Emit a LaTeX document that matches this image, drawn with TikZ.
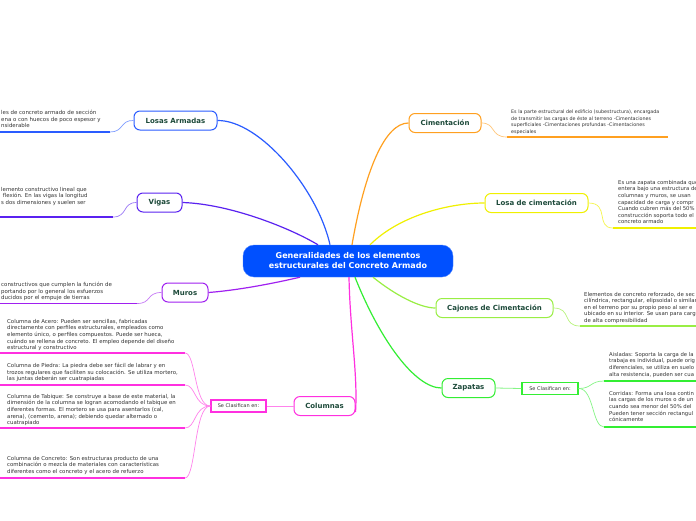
\documentclass[tikz,border=0pt]{standalone}
\usepackage{fontspec}
\setmainfont{DejaVu Sans}
\begin{document}
\begin{tikzpicture}[x=1pt,y=-1pt,
  topic/.style={draw, line width=1pt, fill=white, rounded corners=6pt, minimum height=19pt, inner xsep=6pt, font=\fontsize{7}{8}\selectfont\bfseries, text=labelc},
  clasif/.style={draw, line width=1.4pt, fill=white, minimum height=12pt, inner xsep=3pt, font=\fontsize{5}{6}\selectfont, text=txt},
  desc/.style={anchor=north west, inner sep=0pt, align=left, text=txt, font=\fontsize{5.4}{6.6}\selectfont},
  conn/.style={line width=1.2pt},
  twig/.style={line width=0.7pt},
  uline/.style={line width=1.8pt}
]
\definecolor{labelc}{HTML}{1D4A3A}
\definecolor{txt}{HTML}{333333}
\definecolor{cblue}{HTML}{0050FF}
\definecolor{blu}{HTML}{2A5CFF}
\definecolor{ind}{HTML}{5A22F0}
\definecolor{pur}{HTML}{A020F0}
\definecolor{mag}{HTML}{FF30E0}
\definecolor{ora}{HTML}{FFA020}
\definecolor{yel}{HTML}{F0F000}
\definecolor{lgr}{HTML}{99EE44}
\definecolor{grn}{HTML}{33EE33}
\useasboundingbox (0,0) rectangle (696,520);
\clip (0,0) rectangle (696,520);
\fill[white] (0,0) rectangle (696,520);

% ---------- nodes ----------
\node[draw=cblue!70!white, fill=cblue, rounded corners=11pt, minimum width=210pt, minimum height=32pt, text=white, align=center, font=\fontsize{8}{10}\selectfont\bfseries] (c) at (348,261) {Generalidades de los elementos\\estructurales del Concreto Armado};

\node[topic, draw=blu, minimum width=83pt] (losas) at (175.5,120.5) {Losas Armadas};
\node[topic, draw=ind, minimum width=45pt] (vigas) at (159.5,202.5) {Vigas};
\node[topic, draw=pur, minimum width=46pt] (muros) at (185,292.5) {Muros};
\node[topic, draw=mag, minimum width=61pt] (col) at (324.5,406) {Columnas};
\node[clasif, draw=mag, minimum width=55pt] (cl1) at (238.5,406) {Se Clasifican en:};

\node[topic, draw=ora, minimum width=72pt] (cim) at (445,123) {Cimentación};
\node[topic, draw=yel, minimum width=103pt] (losac) at (536.5,203) {Losa de cimentación};
\node[topic, draw=lgr, minimum width=117pt] (caj) at (494.5,308) {Cajones de Cimentación};
\node[topic, draw=grn, minimum width=53pt] (zap) at (468.5,388) {Zapatas};
\node[clasif, draw=grn, minimum width=56pt] (cl2) at (550,388.5) {Se Clasifican en:};

% ---------- main connectors ----------
\draw[conn, blu] ([xshift=-18pt]c.north) .. controls (318,190) and (260,120) .. (losas.east);
\draw[conn, ind] ([xshift=-30pt]c.north) .. controls (290,228) and (230,204) .. (vigas.east);
\draw[conn, pur] ([xshift=-48pt]c.south) .. controls (275,283) and (240,290) .. (muros.east);
\draw[conn, mag] ([xshift=1pt]c.south) .. controls (350,330) and (358,375) .. ([yshift=-6pt]col.east);
\draw[conn, ora] ([xshift=4pt]c.north) .. controls (365,170) and (385,123) .. (cim.west);
\draw[conn, yel] ([xshift=22pt]c.north) .. controls (400,215) and (450,203) .. (losac.west);
\draw[conn, lgr] ([xshift=25pt]c.south) .. controls (395,295) and (420,308) .. (caj.west);
\draw[conn, grn] ([xshift=7pt]c.south) .. controls (380,340) and (415,388) .. (zap.west);
\draw[conn, mag!60!white, line width=0.8pt] (col.west) -- (cl1.east);
\draw[conn, grn!60!white, line width=0.8pt] (zap.east) -- (cl2.west);

% ---------- Losas Armadas text ----------
\node[desc, font=\fontsize{5.45}{6.6}\selectfont] (tl) at (1,110) {les de concreto armado de sección\\ena o con huecos de poco espesor y\\nsiderable};
\coordinate (ul0) at (0,132); \coordinate (ul1) at (110,132);
\draw[uline, blu] (ul0) -- (ul1);
\draw[twig, blu!60!white] (ul1) .. controls (124,132) and (120,120) .. (losas.west);

% ---------- Vigas text ----------
\node[desc] (tv) at (1,187) {lemento constructivo lineal que\\\ flexión. En las vigas la longitud\\s dos dimensiones y suelen ser};
\coordinate (uv0) at (0,217); \coordinate (uv1) at (113,217);
\draw[uline, ind] (uv0) -- (uv1);
\draw[twig, ind!60!white] (uv1) .. controls (128,217) and (122,202.5) .. (vigas.west);

% ---------- Muros text ----------
\node[desc, font=\fontsize{5.45}{6.6}\selectfont] (tm) at (1,282) {constructivos que cumplen la función de\\portando por lo general los esfuerzos\\ducidos por el empuje de tierras};
\coordinate (um0) at (0,303.5); \coordinate (um1) at (137,303.5);
\draw[uline, pur] (um0) -- (um1);
\draw[twig, pur!60!white] (um1) .. controls (152,303.5) and (146,292.5) .. (muros.west);

% ---------- Columnas texts ----------
\node[desc] (ca) at (7,319) {Columna de Acero: Pueden ser sencillas, fabricadas\\directamente con perfiles estructurales, empleados como\\elemento único, o perfiles compuestos. Puede ser hueca,\\cuándo se rellena de concreto. El empleo depende del diseño\\estructural y constructivo};
\node[desc] (cp) at (7,363) {Columna de Piedra: La piedra debe ser fácil de labrar y en\\trozos regulares que faciliten su colocación. Se utiliza mortero,\\las juntas deberán ser cuatrapiadas};
\node[desc] (ct) at (7,394) {Columna de Tabique: Se construye a base de este material, la\\dimensión de la columna se logran acomodando el tabique en\\diferentes formas. El mortero se usa para asentarlos (cal,\\arena), (cemento, arena); debiendo quedar alternado o\\cuatrapiado};
\node[desc] (cc) at (7,456) {Columna de Concreto: Son estructuras producto de una\\combinación o mezcla de materiales con características\\diferentes como el concreto y el acero de refuerzo};
\foreach \nm/\yy in {a/353, p/385, t/428, c/478} {
  \coordinate (u\nm0) at (0,\yy); \coordinate (u\nm1) at (185,\yy);
  \draw[uline, mag] (u\nm0) -- (u\nm1);
  \draw[twig, mag!60!white] (u\nm1) .. controls (196,\yy) and (194,406) .. (cl1.west);
}

% ---------- Cimentación text ----------
\node[desc, font=\fontsize{4.8}{6.4}\selectfont] (tc) at (511,110) {Es la parte estructural del edificio (subestructura), encargada\\de transmitir las cargas de éste al terreno -Cimentaciones\\superficiales -Cimentaciones profundas -Cimentaciones\\especiales};
\coordinate (uc0) at (507,137); \coordinate (uc1) at (668,137);
\draw[uline, ora] (uc0) -- (uc1);
\draw[twig, ora!60!white] (cim.east) .. controls (496,123) and (490,137) .. (uc0);

% ---------- Losa de cimentación text ----------
\node[desc, font=\fontsize{5.3}{6.6}\selectfont] (tlc) at (618,180) {Es una zapata combinada que\\entera bajo una estructura de\\columnas y muros, se usan\\capacidad de carga y compr\\Cuando cubren más del 50\%\\construcción soporta todo el\\concreto armado};
\coordinate (ulc0) at (613,228); \coordinate (ulc1) at (696,228);
\draw[uline, yel] (ulc0) -- (ulc1);
\draw[twig, yel!70!white] (losac.east) .. controls (610,203) and (595,228) .. (ulc0);

% ---------- Cajones text ----------
\node[desc, font=\fontsize{5.4}{6.5}\selectfont] (tcj) at (584,292) {Elementos de concreto reforzado, de sec\\cilíndrica, rectangular, elipsoidal o similar\\en el terreno por su propio peso al ser e\\ubicado en su interior. Se usan para carg\\de alta compresibilidad};
\coordinate (ucj0) at (580,326); \coordinate (ucj1) at (696,326);
\draw[uline, lgr] (ucj0) -- (ucj1);
\draw[twig, lgr!70!white] (caj.east) .. controls (572,308) and (562,326) .. (ucj0);

% ---------- Zapatas texts ----------
\node[desc, font=\fontsize{5.3}{6.6}\selectfont] (za) at (609,352) {Aisladas: Soporta la carga de la\\trabaja es individual, puede orig\\diferenciales, se utiliza en suelo\\alta resistencia, pueden ser cua};
\node[desc, font=\fontsize{5.3}{6.6}\selectfont] (zc) at (609,391) {Corridas: Forma una losa contin\\las cargas de los muros o de un\\cuando sea menor del 50\% del\\Pueden tener sección rectangul\\cónicamente};
\coordinate (uza0) at (604,381); \coordinate (uza1) at (696,381);
\coordinate (uzc0) at (604,427); \coordinate (uzc1) at (696,427);
\draw[uline, grn] (uza0) -- (uza1);
\draw[uline, grn] (uzc0) -- (uzc1);
\draw[twig, grn!60!white] (cl2.east) .. controls (592,388.5) and (590,381) .. (uza0);
\draw[twig, grn!60!white] (cl2.east) .. controls (594,388.5) and (592,427) .. (uzc0);
\end{tikzpicture}
\end{document}
